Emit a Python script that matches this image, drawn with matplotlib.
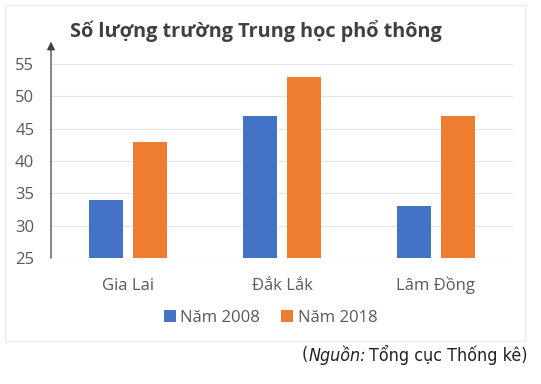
import numpy as np
import matplotlib.pyplot as plt
from matplotlib.patches import Rectangle

# data
provinces = ["Gia Lai", "Đắk Lắk", "Lâm Đồng"]
nam_2008 = [34, 47, 33]
nam_2018 = [43, 53, 47]
yticks = [25, 30, 35, 40, 45, 50, 55]

plt.rcParams['font.family'] = ['Open Sans', 'DejaVu Sans']

W, H = 541, 384
fig = plt.figure(figsize=(W / 100, H / 100), dpi=100)
ax = fig.add_axes([51 / W, 126 / H, 462 / W, 194 / H])

x = np.arange(len(provinces))
w = 0.225
ax.bar(x - 0.143, nam_2008, w, color="#4472C4", label="Năm 2008", zorder=3)
ax.bar(x + 0.143, nam_2018, w, color="#ED7D31", label="Năm 2018", zorder=3)

ax.set_xlim(-0.5, 2.5)
ax.set_ylim(25, 55)
ax.set_yticks(yticks)
ax.set_xticks(x)
ax.set_xticklabels(provinces, va="baseline")
ax.tick_params(axis="both", length=0, colors="#595959", labelsize=12)
ax.tick_params(axis="x", pad=23)
ax.tick_params(axis="y", pad=12)
ax.grid(axis="y", color="#e6e6e6", linewidth=0.8, zorder=0)
for s in ax.spines.values():
    s.set_visible(False)

# y axis drawn as an arrow
ax.annotate("", xy=(0, 1.115), xytext=(0, 0), xycoords="axes fraction",
            arrowprops=dict(arrowstyle="-|>", color="#404040", lw=0.9,
                            mutation_scale=12, shrinkA=0, shrinkB=0),
            annotation_clip=False)

fig.text(256 / W, 1 - 31 / H, "Số lượng trường Trung học phổ thông", fontsize=14.3,
         fontweight="bold", color="#404040", ha="center", va="center")

ax.legend(loc="center", bbox_to_anchor=(0.475, -0.309), ncol=2, frameon=False,
          fontsize=12, labelcolor="#595959", handlelength=0.72, handleheight=0.72,
          handletextpad=0.25, columnspacing=1.3)

# faint frame round the chart
fig.patches.append(Rectangle((5 / W, 43 / H), 520 / W, 336 / H, transform=fig.transFigure,
                             fill=False, edgecolor="#ebebeb", linewidth=0.8))

# source note, "Nguồn:" in italics
src_font = dict(fontsize=12.8, va="center", color="#222222", family="DejaVu Sans",
                stretch="condensed")
y_src = 1 - 355 / H
fig.canvas.draw()
r = fig.canvas.get_renderer()
t = fig.text(302 / W, y_src, "(", **src_font)
x_next = t.get_window_extent(r).x1
t = fig.text(x_next / W, y_src, "Nguồn:", style="italic", **src_font)
x_next = t.get_window_extent(r).x1 + 3
fig.text(x_next / W, y_src, "Tổng cục Thống kê)", **src_font)

fig.savefig("out.png", dpi=100)
